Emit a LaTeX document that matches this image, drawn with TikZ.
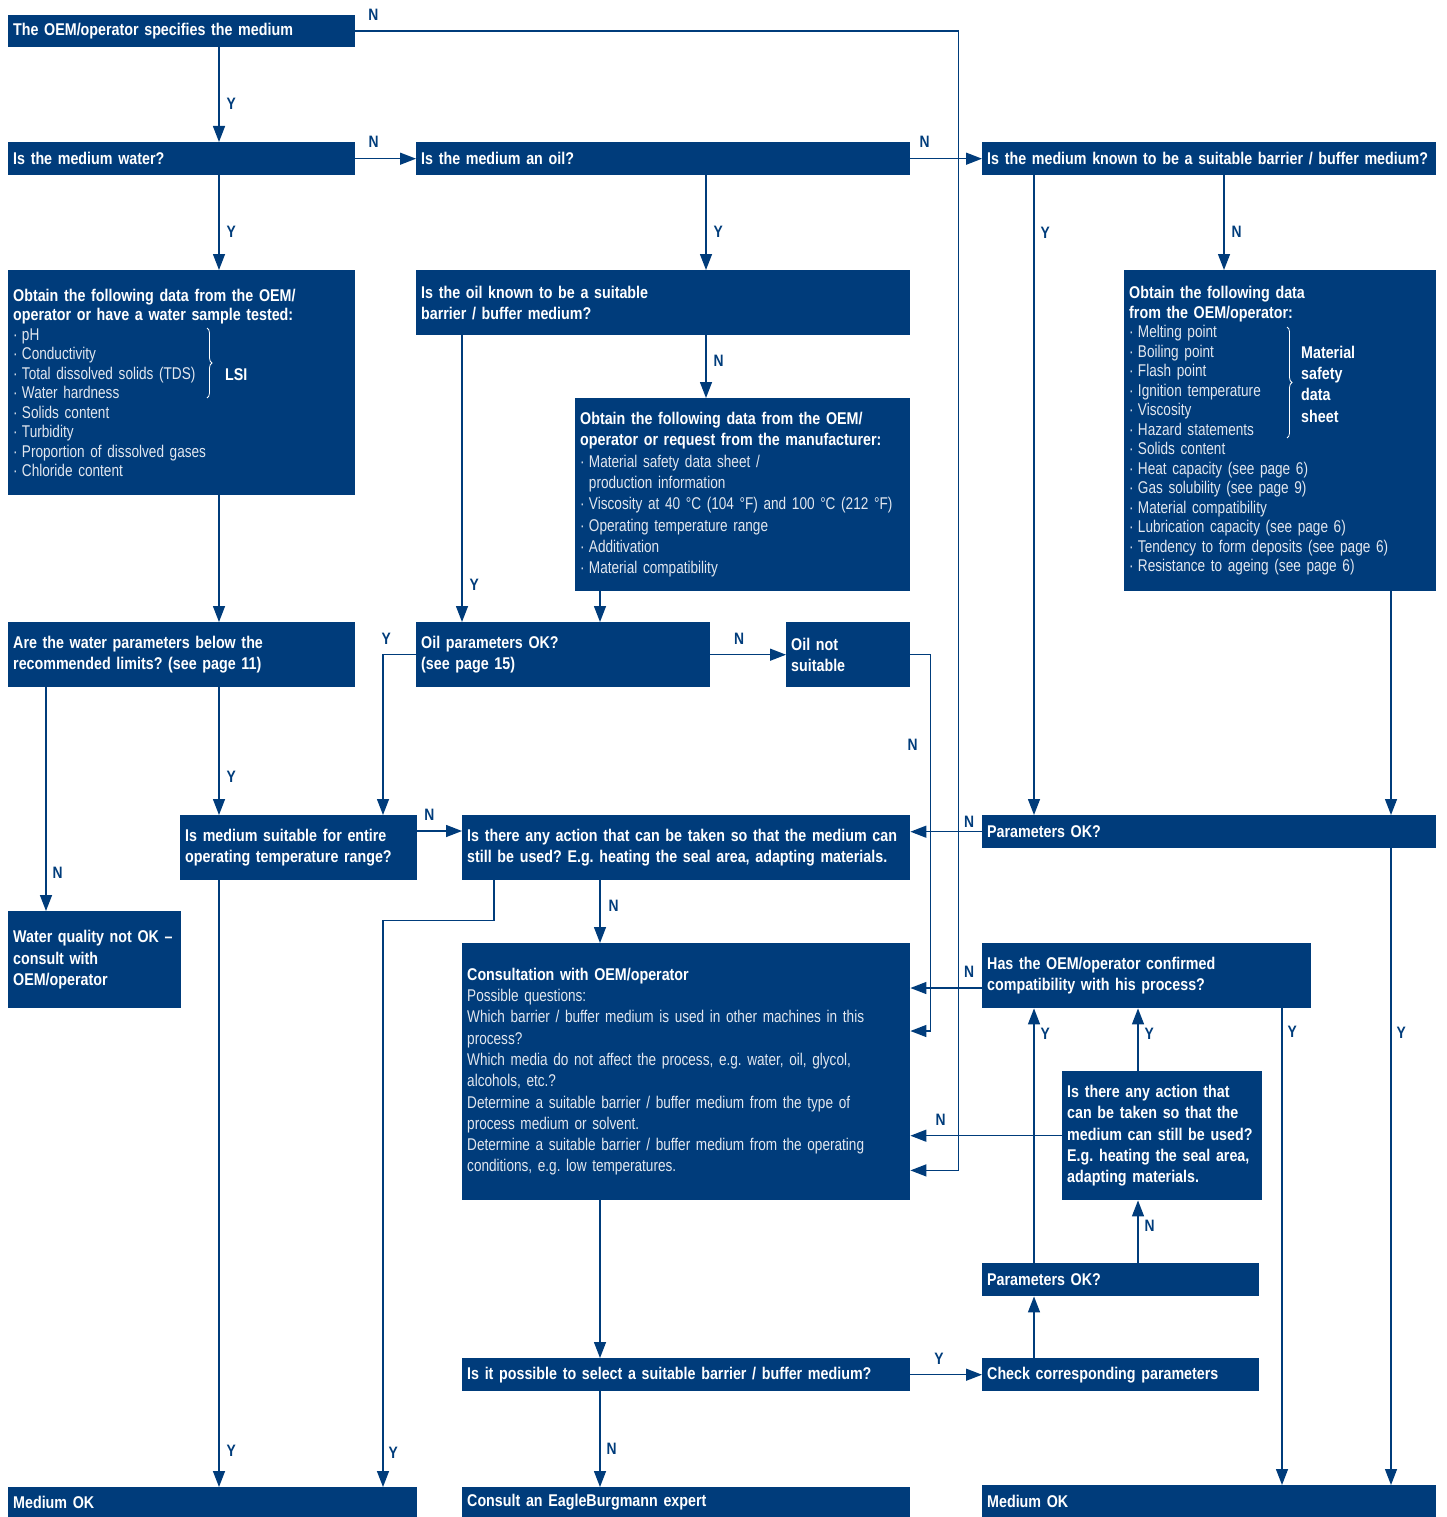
\documentclass[tikz,border=0pt]{standalone}
\usepackage{fontspec}
\setmainfont{Liberation Sans}[FakeStretch=0.80, BoldFeatures={FakeStretch=0.84}]
\usetikzlibrary{arrows.meta, calc, decorations.pathreplacing, positioning}
\definecolor{ebblue}{RGB}{0,60,123}
\definecolor{eblight}{RGB}{226,231,239}
\newcommand{\itm}{·\hspace{0.25em}}
\newcommand{\reg}{\mdseries\color{eblight}}
\frenchspacing

\begin{document}
\begin{tikzpicture}[x=1pt, y=-1pt,
    box/.style={fill=ebblue, text=white, anchor=north west, align=left,
      inner xsep=5pt, inner ysep=0pt, font=\bfseries\fontsize{17}{21.3}\selectfont},
    tight/.style={font=\bfseries\fontsize{17}{19.5}\selectfont},
    conn/.style={draw=ebblue, line width=1.4pt},
    arr/.style={conn, -{Triangle[length=16pt, width=12pt]}},
    yn/.style={text=ebblue, inner sep=0pt, font=\bfseries\fontsize{16.5}{16.5}\selectfont},
    brc/.style={draw=white, line width=0.8pt, decorate, decoration={brace, amplitude=5pt}}]
\useasboundingbox (0,0) rectangle (1446,1517);

\node[box, text width=337pt, minimum height=32pt] (spec) at (8,15) {The OEM/operator specifies the medium};
\node[box, text width=337pt, minimum height=33pt] (water) at (8,142) {Is the medium water?};
\node[box, text width=484pt, minimum height=33pt] (oil) at (416,142) {Is the medium an oil?};
\node[box, text width=444pt, minimum height=33pt] (known) at (982,142) {Is the medium known to be a suitable barrier / buffer medium?};
\node[box, tight, text width=337pt, minimum height=225pt] (wdata) at (8,270) {Obtain the following data from the OEM/\\operator or have a water sample tested:\\\reg
  \itm pH\\\itm Conductivity\\\itm Total dissolved solids (TDS)\\\itm Water hardness\\\itm Solids content\\\itm Turbidity\\\itm Proportion of dissolved gases\\\itm Chloride content};
\node[box, text width=484pt, minimum height=65pt] (oilknown) at (416,270) {Is the oil known to be a suitable\\barrier / buffer medium?};
\node[box, text width=325pt, minimum height=193pt] (odata) at (575,398) {Obtain the following data from the OEM/\\operator or request from the manufacturer:\\\reg
  \itm Material safety data sheet /\\\phantom{\itm}production information\\\itm Viscosity at 40 °C (104 °F) and 100 °C (212 °F)\\\itm Operating temperature range\\\itm Additivation\\\itm Material compatibility};
\node[box, tight, text width=302pt, minimum height=321pt] (mdata) at (1124,270) {Obtain the following data\\from the OEM/operator:\\\reg
  \itm Melting point\\\itm Boiling point\\\itm Flash point\\\itm Ignition temperature\\\itm Viscosity\\\itm Hazard statements\\\itm Solids content\\\itm Heat capacity (see page 6)\\\itm Gas solubility (see page 9)\\\itm Material compatibility\\\itm Lubrication capacity (see page 6)\\\itm Tendency to form deposits (see page 6)\\\itm Resistance to ageing (see page 6)};
\node[box, text width=337pt, minimum height=65pt] (wparam) at (8,622) {Are the water parameters below the\\recommended limits? (see page 11)};
\node[box, text width=284pt, minimum height=65pt] (oilok) at (416,622) {Oil parameters OK?\\(see page 15)};
\node[box, text width=114pt, minimum height=65pt] (oilno) at (786,622) {Oil not\\suitable};
\node[box, text width=227pt, minimum height=65pt] (temp) at (180,815) {Is medium suitable for entire\\operating temperature range?};
\node[box, text width=438pt, minimum height=65pt] (action) at (462,815) {Is there any action that can be taken so that the medium can\\still be used? E.g. heating the seal area, adapting materials.};
\node[box, text width=444pt, minimum height=33pt] (paramok) at (982,815) {Parameters OK?};
\node[box, text width=163pt, minimum height=97pt] (wbad) at (8,911) {Water quality not OK –\\consult with\\OEM/operator};
\node[box, text width=438pt, minimum height=257pt] (consult) at (462,943) {Consultation with OEM/operator\\\reg
  Possible questions:\\Which barrier / buffer medium is used in other machines in this\\process?\\Which media do not affect the process, e.g. water, oil, glycol,\\alcohols, etc.?\\Determine a suitable barrier / buffer medium from the type of\\process medium or solvent.\\Determine a suitable barrier / buffer medium from the operating\\conditions, e.g. low temperatures.};
\node[box, text width=319pt, minimum height=65pt] (confirm) at (982,943) {Has the OEM/operator confirmed\\compatibility with his process?};
\node[box, text width=190pt, minimum height=129pt] (action2) at (1062,1071) {Is there any action that\\can be taken so that the\\medium can still be used?\\E.g. heating the seal area,\\adapting materials.};
\node[box, text width=267pt, minimum height=33pt] (paramok2) at (982,1263) {Parameters OK?};
\node[box, text width=438pt, minimum height=33pt] (select) at (462,1358) {Is it possible to select a suitable barrier / buffer medium?};
\node[box, text width=267pt, minimum height=33pt] (check) at (982,1358) {Check corresponding parameters};
\node[box, text width=399pt, minimum height=30pt] (okleft) at (8,1487) {Medium OK};
\node[box, text width=438pt, minimum height=30pt] (expert) at (462,1487) {Consult an EagleBurgmann expert};
\node[box, text width=444pt, minimum height=32pt] (okright) at (982,1485) {Medium OK};

\draw[brc] ($(wdata.north west)+(199,58)$) -- ($(wdata.north west)+(199,128)$);
\node[anchor=west, inner sep=0pt, text=white, font=\bfseries\fontsize{17}{21.3}\selectfont] (lsi) at ($(wdata.north west)+(217,105)$) {LSI};
\draw[brc] ($(mdata.north west)+(163,57)$) -- ($(mdata.north west)+(163,168)$);
\node[anchor=west, align=left, inner sep=0pt, text=white, font=\bfseries\fontsize{17}{21.3}\selectfont] (msds) at ($(mdata.north west)+(177,114)$) {Material\\safety\\data\\sheet};

\draw[arr] (spec.east) -- node[yn, pos=0.03, above=10pt] {N} ++(603,0) |- ($(consult.south east)+(0,-30)$);
\draw[arr] ($(spec.south west)+(211,0)$) -- node[yn, pos=0.6, right=7pt] {Y} ($(water.north west)+(211,0)$);
\draw[arr] (water.east) -- node[yn, pos=0.3, above=10pt] {N} (oil.west);
\draw[arr] (oil.east) -- node[yn, pos=0.2, above=10pt] {N} (known.west);
\draw[arr] ($(water.south west)+(211,0)$) -- node[yn, pos=0.6, right=7pt] {Y} ($(wdata.north west)+(211,0)$);
\draw[arr] ($(oil.south west)+(290,0)$) -- node[yn, pos=0.6, right=7pt] {Y} ($(oilknown.north west)+(290,0)$);
\draw[arr] ($(known.south west)+(52,0)$) -- node[yn, pos=0.09, right=6pt] {Y} ($(paramok.north west)+(52,0)$);
\draw[arr] ($(known.south west)+(242,0)$) -- node[yn, pos=0.6, right=7pt] {N} ($(mdata.north west)+(100,0)$);
\draw[arr] ($(oilknown.south west)+(290,0)$) -- node[yn, pos=0.4, right=7pt] {N} ($(odata.north west)+(131,0)$);
\draw[arr] ($(oilknown.south west)+(46,0)$) -- node[yn, pos=0.87, right=7pt] {Y} ($(oilok.north west)+(46,0)$);
\draw[arr] ($(odata.south west)+(25,0)$) -- ($(oilok.north west)+(184,0)$);
\draw[arr] ($(wdata.south west)+(211,0)$) -- ($(wparam.north west)+(211,0)$);
\draw[arr] ($(mdata.south west)+(267,0)$) -- ($(paramok.north west)+(409,0)$);
\draw[arr] (oilok.east) -- node[yn, pos=0.38, above=10pt] {N} (oilno.west);
\draw[arr] (oilok.west) -| node[yn, pos=0.45, above=10pt] {Y} ($(temp.north west)+(203,0)$);
\draw[arr] ($(wparam.south west)+(38,0)$) -- node[yn, pos=0.83, right=6pt] {N} ($(wbad.north west)+(38,0)$);
\draw[arr] ($(wparam.south west)+(211,0)$) -- node[yn, pos=0.7, right=7pt] {Y} ($(temp.north west)+(39,0)$);
\draw[arr] (oilno.east) -- ++(20,0) |- node[yn, pos=0.12, left=12pt] {N} ($(consult.north east)+(0,88)$);
\draw[arr] ($(temp.north east)+(0,16)$) -- node[yn, pos=0.27, above=10pt] {N} ($(action.north west)+(0,16)$);
\draw[arr] (paramok.west) -- node[yn, pos=0.18, above=4pt] {N} (paramok.west -| action.east);
\draw[arr] ($(action.south west)+(138,0)$) -- node[yn, pos=0.4, right=8pt] {N} ($(consult.north west)+(138,0)$);
\draw[arr] ($(action.south west)+(32,0)$) -- ++(0,40) -| node[yn, pos=0.97, right=5pt] {Y} ($(okleft.north west)+(375,0)$);
\draw[arr] ($(temp.south west)+(39,0)$) -- node[yn, pos=0.94, right=7pt] {Y} ($(okleft.north west)+(211,0)$);
\draw[arr] ($(confirm.north west)+(0,45)$) -- node[yn, pos=0.18, above=10pt] {N} ($(consult.north east)+(0,45)$);
\draw[arr] (action2.west) -- node[yn, pos=0.8, above=10pt] {N} (action2.west -| consult.east);
\draw[arr] ($(consult.south west)+(138,0)$) -- ($(select.north west)+(138,0)$);
\draw[arr] (select.east) -- node[yn, pos=0.4, above=10pt] {Y} (check.west);
\draw[arr] ($(select.south west)+(138,0)$) -- node[yn, pos=0.6, right=6pt] {N} ($(expert.north west)+(138,0)$);
\draw[arr] ($(check.north west)+(52,0)$) -- ($(paramok2.south west)+(52,0)$);
\draw[arr] ($(paramok2.north west)+(52,0)$) -- node[yn, pos=0.9, right=6pt] {Y} ($(confirm.south west)+(52,0)$);
\draw[arr] ($(paramok2.north west)+(156,0)$) -- node[yn, pos=0.6, right=6pt] {N} ($(action2.south west)+(76,0)$);
\draw[arr] ($(action2.north west)+(76,0)$) -- node[yn, pos=0.6, right=6pt] {Y} ($(confirm.south west)+(156,0)$);
\draw[arr] ($(confirm.south west)+(300,0)$) -- node[yn, pos=0.05, right=5pt] {Y} ($(okright.north west)+(300,0)$);
\draw[arr] ($(paramok.south west)+(409,0)$) -- node[yn, pos=0.29, right=5pt] {Y} ($(okright.north west)+(409,0)$);
\end{tikzpicture}
\end{document}
